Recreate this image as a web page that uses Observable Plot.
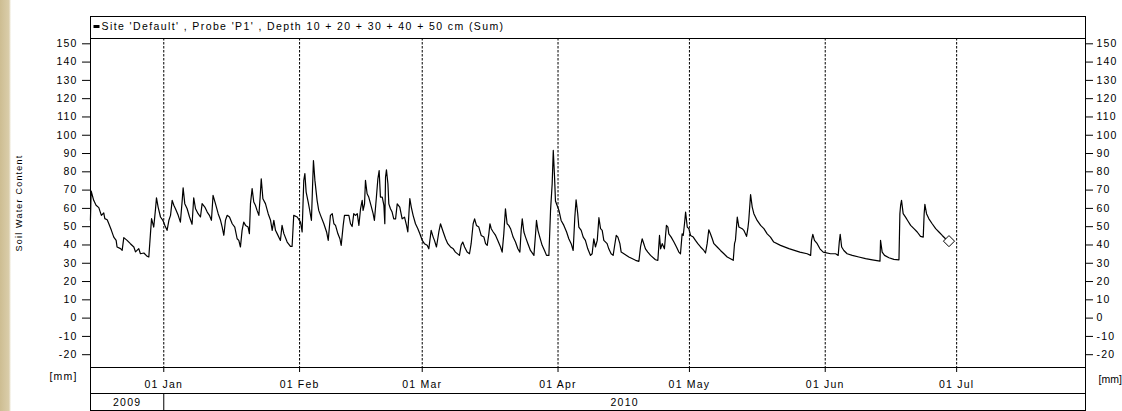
<!DOCTYPE html>
<html><head><meta charset="utf-8">
<script src="https://cdn.jsdelivr.net/npm/d3@7"></script>
<script src="https://cdn.jsdelivr.net/npm/@observablehq/plot@0.6"></script>
<style>
html,body{margin:0;padding:0;overflow:hidden;}
body{width:1122px;height:411px;background:linear-gradient(to right,#cdbd92 0,#dacdaa 9px,#ffffff 11px);}
#chart svg{display:block;}
</style></head><body><div id="chart"></div>
<script>
// ---- data ----
const times = [
"2009-12-15T06","2009-12-15T10","2009-12-16T00","2009-12-16T13","2009-12-17T04","2009-12-17T18","2009-12-18T07","2009-12-18T13","2009-12-19T02","2009-12-19T11",
"2009-12-20T01","2009-12-20T14","2009-12-21T03","2009-12-21T08","2009-12-22T03","2009-12-22T12","2009-12-22T21","2009-12-23T15","2009-12-24T09","2009-12-25T04",
"2009-12-25T13","2009-12-26T07","2009-12-26T16","2009-12-27T11","2009-12-28T05","2009-12-28T14","2009-12-28T23","2009-12-29T05","2009-12-29T17","2009-12-30T02",
"2009-12-30T08","2009-12-30T17","2009-12-31T06","2009-12-31T19","2010-01-01T06","2010-01-01T18","2010-01-02T04","2010-01-02T13","2010-01-02T22","2010-01-03T07",
"2010-01-03T16","2010-01-04T07","2010-01-04T19","2010-01-05T05","2010-01-05T10","2010-01-05T19","2010-01-06T08","2010-01-06T21","2010-01-07T11","2010-01-07T20",
"2010-01-08T06","2010-01-08T20","2010-01-09T09","2010-01-09T18","2010-01-10T09","2010-01-10T22","2010-01-11T10","2010-01-11T21","2010-01-12T06","2010-01-12T19",
"2010-01-13T10","2010-01-13T23","2010-01-14T08","2010-01-14T17","2010-01-15T02","2010-01-15T11","2010-01-16T00","2010-01-16T15","2010-01-17T05","2010-01-17T18",
"2010-01-18T03","2010-01-18T12","2010-01-18T21","2010-01-19T06","2010-01-19T16","2010-01-20T06","2010-01-20T13","2010-01-20T19","2010-01-21T04","2010-01-21T13",
"2010-01-21T22","2010-01-22T07","2010-01-22T17","2010-01-23T00","2010-01-23T06","2010-01-23T15","2010-01-24T05","2010-01-24T20","2010-01-25T09","2010-01-25T18",
"2010-01-26T03","2010-01-26T12","2010-01-26T21","2010-01-27T15","2010-01-28T00","2010-01-28T10","2010-01-29T04","2010-01-29T22","2010-01-30T07","2010-01-30T16",
"2010-01-31T11","2010-02-01T05","2010-02-01T14","2010-02-01T23","2010-02-02T05","2010-02-02T12","2010-02-02T23","2010-02-03T06","2010-02-03T17","2010-02-03T23",
"2010-02-04T04","2010-02-04T12","2010-02-05T00","2010-02-05T09","2010-02-05T19","2010-02-06T13","2010-02-07T04","2010-02-07T13","2010-02-08T01","2010-02-08T11",
"2010-02-08T20","2010-02-09T05","2010-02-09T18","2010-02-10T05","2010-02-10T12","2010-02-10T23","2010-02-11T06","2010-02-12T06","2010-02-12T15","2010-02-13T00",
"2010-02-13T09","2010-02-13T18","2010-02-14T04","2010-02-14T13","2010-02-14T22","2010-02-15T07","2010-02-15T12","2010-02-15T20","2010-02-16T01","2010-02-16T10",
"2010-02-16T19","2010-02-17T05","2010-02-17T19","2010-02-18T02","2010-02-18T13","2010-02-18T21","2010-02-19T04","2010-02-19T11","2010-02-19T21","2010-02-20T06",
"2010-02-20T11","2010-02-20T15","2010-02-20T20","2010-02-21T04","2010-02-21T09","2010-02-21T18","2010-02-22T03","2010-02-22T12","2010-02-22T22","2010-02-23T07",
"2010-02-23T21","2010-02-24T10","2010-02-24T23","2010-02-25T10","2010-02-25T17","2010-02-25T23","2010-02-26T04","2010-02-26T12","2010-02-26T22","2010-02-27T11",
"2010-02-28T00","2010-02-28T11","2010-03-01T00","2010-03-01T12","2010-03-02T03","2010-03-02T12","2010-03-03T01","2010-03-03T12","2010-03-03T19","2010-03-04T06",
"2010-03-04T19","2010-03-05T04","2010-03-05T19","2010-03-06T08","2010-03-06T20","2010-03-07T11","2010-03-08T02","2010-03-08T14","2010-03-09T12","2010-03-09T21",
"2010-03-10T06","2010-03-10T16","2010-03-11T06","2010-03-11T19","2010-03-12T04","2010-03-12T15","2010-03-12T23","2010-03-13T09","2010-03-13T22","2010-03-14T11",
"2010-03-15T02","2010-03-15T11","2010-03-15T20","2010-03-16T05","2010-03-16T11","2010-03-16T18","2010-03-17T05","2010-03-17T18","2010-03-18T06","2010-03-18T21",
"2010-03-19T06","2010-03-19T15","2010-03-20T00","2010-03-20T09","2010-03-20T18","2010-03-21T04","2010-03-21T18","2010-03-22T07","2010-03-22T20","2010-03-23T07",
"2010-03-23T14","2010-03-23T20","2010-03-24T05","2010-03-24T14","2010-03-25T03","2010-03-25T17","2010-03-26T12","2010-03-26T21","2010-03-27T02","2010-03-27T10",
"2010-03-27T20","2010-03-28T09","2010-03-28T22","2010-03-29T09","2010-03-29T22","2010-03-30T07","2010-03-30T16","2010-03-30T22","2010-03-31T05","2010-03-31T10",
"2010-03-31T19","2010-04-01T05","2010-04-01T17","2010-04-02T08","2010-04-02T23","2010-04-03T11","2010-04-04T00","2010-04-04T11","2010-04-04T20","2010-04-05T03",
"2010-04-05T12","2010-04-05T18","2010-04-06T07","2010-04-06T18","2010-04-07T06","2010-04-07T19","2010-04-08T10","2010-04-08T19","2010-04-09T04","2010-04-09T13",
"2010-04-09T23","2010-04-10T08","2010-04-10T17","2010-04-11T02","2010-04-11T11","2010-04-12T05","2010-04-12T14","2010-04-13T03","2010-04-13T14","2010-04-13T21",
"2010-04-14T07","2010-04-14T16","2010-04-15T03","2010-04-15T10","2010-04-16T01","2010-04-17T04","2010-04-18T17","2010-04-19T11","2010-04-19T20","2010-04-20T05",
"2010-04-20T14","2010-04-20T23","2010-04-21T12","2010-04-22T03","2010-04-23T06","2010-04-23T19","2010-04-24T04","2010-04-24T10","2010-04-24T19","2010-04-25T07",
"2010-04-25T18","2010-04-26T02","2010-04-26T07","2010-04-26T20","2010-04-27T11","2010-04-28T01","2010-04-28T14","2010-04-28T23","2010-04-29T08","2010-04-29T14",
"2010-04-29T21","2010-04-30T03","2010-04-30T12","2010-04-30T21","2010-05-01T06","2010-05-01T21","2010-05-02T09","2010-05-02T22","2010-05-03T13","2010-05-04T07",
"2010-05-04T16","2010-05-05T01","2010-05-05T10","2010-05-05T19","2010-05-06T05","2010-05-06T14","2010-05-07T08","2010-05-08T02","2010-05-08T21","2010-05-09T15",
"2010-05-10T09","2010-05-11T00","2010-05-11T07","2010-05-11T12","2010-05-11T22","2010-05-12T07","2010-05-13T01","2010-05-13T10","2010-05-14T01","2010-05-14T08",
"2010-05-14T13","2010-05-14T23","2010-05-15T08","2010-05-15T17","2010-05-16T11","2010-05-17T06","2010-05-18T00","2010-05-18T18","2010-05-19T12","2010-05-20T06",
"2010-05-21T19","2010-05-23T17","2010-05-26T05","2010-05-27T21","2010-05-28T16","2010-05-28T21","2010-05-29T04","2010-05-29T13","2010-05-30T04","2010-05-30T19",
"2010-05-31T13","2010-06-02T05","2010-06-03T09","2010-06-03T23","2010-06-04T05","2010-06-04T10","2010-06-04T18","2010-06-05T06","2010-06-06T00","2010-06-07T04",
"2010-06-08T16","2010-06-10T05","2010-06-11T18","2010-06-13T12","2010-06-13T15","2010-06-14T00","2010-06-14T13","2010-06-15T13","2010-06-16T16","2010-06-17T20",
"2010-06-18T01","2010-06-18T05","2010-06-18T10","2010-06-18T19","2010-06-19T08","2010-06-19T21","2010-06-20T12","2010-06-21T06","2010-06-22T00","2010-06-22T18",
"2010-06-23T09","2010-06-23T14","2010-06-23T18","2010-06-24T03","2010-06-24T16","2010-06-25T10","2010-06-26T05","2010-06-26T23","2010-06-27T17","2010-06-28T11",
"2010-06-29T06"
];
const swc = [
53.5,69.5,64.4,61.7,60.4,56.2,57.5,54.4,53.8,51.6,
48.0,44.3,42.5,38.9,38.0,37.1,44.0,42.5,40.7,38.9,
36.2,38.0,35.2,35.6,33.8,33.4,46.2,54.4,49.8,58.9,
65.8,60.7,55.3,53.5,50.7,48.0,53.5,56.2,64.4,61.7,
59.8,56.2,52.5,64.4,71.3,62.6,59.8,55.3,51.3,65.8,
59.8,57.1,55.3,62.6,60.7,58.0,56.2,53.5,67.1,62.6,
57.1,53.5,49.8,45.3,53.5,56.2,55.3,51.6,49.8,43.4,
42.5,38.9,48.0,52.5,50.7,49.8,46.2,62.6,70.8,63.5,
61.7,58.9,56.2,66.2,76.2,65.3,62.6,57.1,53.5,48.0,
53.5,48.0,46.2,42.5,50.7,46.2,41.6,39.2,39.2,56.2,
55.3,52.5,47.1,75.3,79.0,68.9,63.5,59.8,53.5,71.7,
86.2,75.3,64.4,58.9,56.2,51.6,47.1,42.5,56.2,57.1,
51.6,50.7,46.1,43.4,39.8,50.7,56.2,56.2,51.6,50.1,
57.1,56.2,57.1,50.7,59.8,64.4,58.9,62.5,75.3,68.0,
66.2,62.5,57.1,53.4,66.2,76.2,80.7,66.2,66.2,61.6,
51.6,77.1,81.1,73.5,62.5,59.8,58.0,54.3,54.3,62.5,
60.7,54.3,55.2,50.7,47.1,57.1,65.3,60.7,56.2,51.6,
48.9,46.1,42.5,40.7,39.8,37.9,48.0,44.3,42.5,38.9,
47.1,51.6,47.1,43.4,40.7,38.9,37.9,36.1,34.3,39.8,
41.6,38.9,36.1,35.2,40.7,51.6,54.3,50.7,49.8,45.2,
44.3,40.7,39.8,46.1,51.6,48.9,47.1,45.2,42.5,38.9,
36.1,46.1,59.8,51.6,50.7,48.9,44.3,41.6,37.9,36.1,
48.0,54.3,47.1,44.3,40.7,37.0,34.3,46.1,53.4,48.0,
44.3,39.8,37.0,34.3,34.3,58.9,73.5,91.7,77.1,64.0,
61.6,58.9,53.4,50.7,47.1,43.4,40.7,37.0,55.2,64.7,
57.1,49.8,48.0,44.3,42.5,37.9,34.3,35.2,43.4,38.9,
42.5,54.9,48.9,48.0,42.5,40.7,37.9,35.2,34.3,38.9,
45.2,44.3,40.7,36.1,35.2,33.4,31.6,31.0,38.9,43.4,
40.7,37.9,36.1,34.3,31.9,31.6,45.2,37.9,40.7,37.9,
50.7,49.8,46.1,44.3,41.6,38.9,36.1,35.2,46.1,45.2,
51.6,58.0,49.8,48.9,45.2,44.3,42.5,40.7,38.9,37.0,
35.6,40.7,48.3,46.1,43.4,40.7,38.9,37.0,35.2,33.4,
32.5,31.6,40.7,42.5,55.2,49.8,48.9,48.0,44.7,48.9,
53.4,67.6,60.7,57.1,53.4,50.7,48.9,46.1,44.3,41.6,
39.8,38.0,36.1,35.2,34.3,42.5,45.8,42.5,40.7,37.9,
36.1,35.2,35.2,34.3,41.6,45.8,38.9,37.0,35.2,34.3,
33.4,32.5,31.9,31.2,42.5,36.1,34.3,33.0,32.1,31.9,
57.1,61.6,64.4,57.1,55.2,53.1,50.7,48.9,47.1,44.7,
44.3,57.1,62.2,57.1,54.3,51.6,48.9,47.1,45.2,43.4,
42.1
];
const yTicks = [-20,-10,0,10,20,30,40,50,60,70,80,90,100,110,120,130,140,150];
const monthTicks = ["2010-01-01","2010-02-01","2010-03-01","2010-04-01","2010-05-01","2010-06-01","2010-07-01"];
const yearLabels = ["2009","2010"];
const xDomain = ["2009-12-15T06:30Z","2010-07-30T10:00Z"];
const yDomain = [-27, 152.9];
const legendText = "Site 'Default' , Probe 'P1' , Depth 10 + 20 + 30 + 40 + 50 cm (Sum)";
const yTitle = "Soil Water Content";
const unitLabel = "[mm]";

// ---- build ----
const parse = d3.utcParse("%Y-%m-%dT%H");
const data = times.map((t, i) => ({date: parse(t), value: swc[i]}));
const x0 = new Date(xDomain[0]), x1 = new Date(xDomain[1]);
const monthDates = monthTicks.map(s => new Date(s + "T00:00:00Z"));
const yearMid = yearLabels.map(y => {
  const a = Math.max(+x0, Date.UTC(+y, 0, 1));
  const b = Math.min(+x1, Date.UTC(+y + 1, 0, 1));
  return new Date((a + b) / 2);
});
const yearBreaks = yearLabels.map(y => new Date(Date.UTC(+y, 0, 1))).filter(d => d > x0 && d < x1);
const barSymbol = {draw(ctx) { ctx.moveTo(-3, -1.5); ctx.lineTo(3, -1.5); ctx.lineTo(3, 1.5); ctx.lineTo(-3, 1.5); ctx.closePath(); }};

const chart = Plot.plot({
  width: 1122, height: 411,
  marginLeft: 90, marginRight: 37, marginTop: 38, marginBottom: 44,
  style: {background: "transparent", fontFamily: "'Liberation Sans', Arial, sans-serif", fontSize: "10.5px", color: "black", letterSpacing: "1.2px", overflow: "hidden"},
  x: {type: "utc", domain: [x0, x1]},
  y: {domain: yDomain},
  marks: [
    Plot.ruleX(monthDates, {stroke: "black", strokeDasharray: "2.5,1.5"}),
    Plot.frame({stroke: "black"}),
    Plot.frame({stroke: "black", insetTop: -22, insetBottom: -43}),
    Plot.frame({stroke: "black", insetBottom: -26}),
    Plot.ruleX(yearBreaks, {stroke: "black", insetTop: 355, insetBottom: -43}),
    Plot.axisX({ticks: monthDates, tickFormat: d3.utcFormat("%d %b"), tickSize: 5, tickPadding: 8, label: null}),
    Plot.axisY({anchor: "left", ticks: yTicks, tickFormat: d => String(d), tickSize: 8, tickPadding: 5, label: null}),
    Plot.axisY({anchor: "right", ticks: yTicks, tickFormat: d => String(d), tickSize: 7, tickPadding: 4, label: null}),
    Plot.line(data, {x: "date", y: "value", stroke: "black", strokeWidth: 1.2}),
    Plot.dot(data.slice(-1), {x: "date", y: "value", symbol: "diamond2", r: 5, fill: "white", stroke: "black", strokeWidth: 1}),
    Plot.dot([0], {frameAnchor: "top-left", dx: 6, dy: -12, symbol: barSymbol, r: 3, fill: "black", stroke: "none"}),
    Plot.text([legendText], {frameAnchor: "top-left", dx: 11, dy: -12, textAnchor: "start", lineAnchor: "middle", style: "letter-spacing:1.4px", text: d => d}),
    Plot.text([yTitle], {frameAnchor: "left", dx: -71, rotate: -90, fontSize: 9, textAnchor: "middle", lineAnchor: "middle", text: d => d}),
    Plot.text([unitLabel], {frameAnchor: "bottom-left", dx: -27, dy: 9, textAnchor: "middle", lineAnchor: "middle", text: d => d}),
    Plot.text([unitLabel], {frameAnchor: "bottom-right", dx: 13, dy: 12, textAnchor: "start", lineAnchor: "middle", text: d => d}),
    Plot.text(yearLabels, {x: (d, i) => yearMid[i], frameAnchor: "bottom", dy: 35.5, lineAnchor: "middle", text: d => d})
  ]
});
// right-hand unit label drawn without extra tracking so it fits inside the page edge
const texts = chart.querySelectorAll("g[aria-label='text'] text");
texts.forEach(t => { if (t.textContent === legendText) t.style.letterSpacing = "1.4px"; });
const unitTexts = [...texts].filter(t => t.textContent === unitLabel);
if (unitTexts.length === 2) unitTexts[1].style.letterSpacing = "0px";
document.getElementById("chart").append(chart);
</script>
</body></html>
